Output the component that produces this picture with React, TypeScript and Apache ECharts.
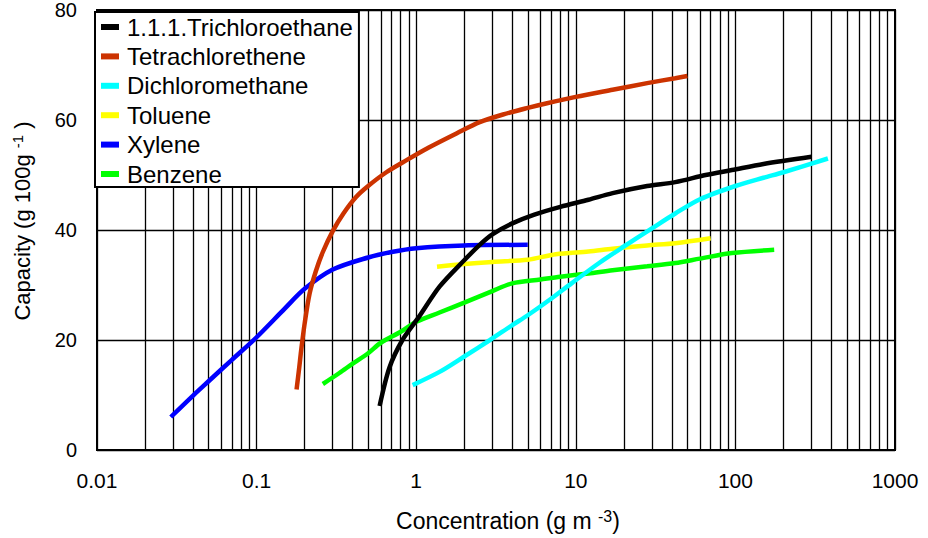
import React, { useEffect, useRef } from "react";
import * as echarts from "echarts";

const seriesNames = [
  "1.1.1.Trichloroethane",
  "Tetrachlorethene",
  "Dichloromethane",
  "Toluene",
  "Xylene",
  "Benzene",
];
const seriesColors = ["#000000", "#cc3300", "#00ffff", "#ffff00", "#0000ff", "#00ff00"];

const trichloroethane = [
  [0.59, 8], [0.68, 15], [0.82, 20], [1.04, 24.2], [1.4, 29.7], [2, 34.5], [2.5, 37.3],
  [3, 39.2], [4, 41.2], [5.5, 42.8], [8, 44.2], [12, 45.5], [17, 46.7], [28, 48],
  [42, 48.7], [65, 50], [95, 50.9], [150, 52], [300, 53.3],
];
const tetrachlorethene = [
  [0.178, 11], [0.185, 15], [0.19, 18], [0.2, 23], [0.215, 28.5], [0.235, 32.5],
  [0.26, 36], [0.3, 39.8], [0.35, 43], [0.42, 46], [0.5, 48], [0.65, 50.5],
  [0.87, 52.7], [1.2, 55], [1.8, 57.6], [2.5, 59.6], [3.5, 61], [5, 62.2],
  [6.5, 63], [10, 64.2], [17, 65.5], [28, 66.7], [42, 67.6], [50, 68],
];
const dichloromethane = [
  [0.95, 11.8], [1.4, 14.2], [2, 17], [2.9, 20], [4, 22.7], [5, 24.5], [7, 27.5],
  [9.4, 30.3], [14, 34], [20, 37], [30, 40.3], [42, 43], [60, 45.6], [100, 48],
  [150, 49.5], [200, 50.5], [380, 53],
];
const toluene = [
  [1.35, 33.3], [2, 33.8], [3, 34.2], [5, 34.6], [7.5, 35.6], [12, 36.1], [17, 36.6],
  [28, 37.2], [42, 37.6], [70, 38.5],
];
const xylene = [
  [0.029, 6], [0.04, 9.9], [0.05, 12.5], [0.07, 16.4], [0.1, 20.5], [0.15, 25.7],
  [0.2, 29.3], [0.3, 32.8], [0.5, 35], [0.7, 36], [1, 36.7], [2, 37.2], [5, 37.3],
];
const benzene = [
  [0.26, 12], [0.33, 14], [0.4, 15.7], [0.5, 17.6], [0.6, 19.5], [0.8, 21.5], [1, 23.3],
  [1.4, 25], [2, 26.8], [3, 28.9], [4, 30.3], [6, 31], [8, 31.5], [12, 32.1], [17, 32.7],
  [28, 33.4], [42, 34], [60, 34.8], [95, 35.8], [175, 36.4],
];
const seriesData = [trichloroethane, tetrachlorethene, dichloromethane, toluene, xylene, benzene];

const xMin = 0.01;
const xMax = 1000;
const xTickLabels: Record<string, string> = {
  "0.01": "0.01", "0.1": "0.1", "1": "1", "10": "10", "100": "100", "1000": "1000",
};
const yMin = 0;
const yMax = 80;
const yInterval = 20;
const decades = [0.01, 0.1, 1, 10, 100];
const minorMultipliers = [2, 3, 4, 5, 6, 7, 8, 9];

const FONT = "'Liberation Sans', Arial, sans-serif";

export default function App() {
  const ref = useRef<HTMLDivElement>(null);
  useEffect(() => {
    if (!ref.current) return;
    const chart = echarts.init(ref.current, null, { renderer: "svg" });
    const minorLines: any[] = [];
    decades.forEach((d) => minorMultipliers.forEach((m) => minorLines.push({ xAxis: +(d * m).toPrecision(6) })));

    const lineSeries = seriesNames.map((name, i) => ({
      name,
      type: "line",
      data: seriesData[i],
      showSymbol: false,
      symbol: "none",
      smooth: 0.3,
      lineStyle: { color: seriesColors[i], width: 4.5 },
      itemStyle: { color: seriesColors[i] },
      z: 10 - i,
    }));

    chart.setOption({
      animation: false,
      backgroundColor: "#ffffff",
      grid: {
        left: 97,
        right: 33,
        top: 10,
        bottom: 88,
        show: true,
        borderColor: "#000",
        borderWidth: 2,
        containLabel: false,
        outerBoundsMode: "none",
      },
      legend: {
        data: seriesNames,
        orient: "vertical",
        left: 95,
        top: 12,
        padding: [3, 6, 1, 6],
        itemWidth: 18,
        itemHeight: 6,
        itemGap: 5.4,
        icon: "rect",
        backgroundColor: "#fff",
        borderColor: "#000",
        borderWidth: 2,
        borderRadius: 0,
        textStyle: {
          fontFamily: FONT,
          fontSize: 24,
          lineHeight: 24,
          color: "#000",
          padding: [0, 0, 0, 3],
        },
        z: 20,
      },
      xAxis: {
        type: "log",
        logBase: 10,
        min: xMin,
        max: xMax,
        name: "Concentration (g m {sup|-3})",
        nameLocation: "middle",
        nameGap: 58,
        nameTextStyle: {
          fontFamily: FONT,
          fontSize: 23,
          color: "#000",
          padding: [0, 0, 0, 24],
          rich: { sup: { fontFamily: FONT, fontSize: 16, color: "#000", verticalAlign: "top", padding: [0, 0, 10, 0] } },
        },
        axisLine: { show: true, lineStyle: { color: "#000", width: 2 } },
        axisTick: { show: false },
        axisLabel: {
          fontFamily: FONT,
          fontSize: 21,
          color: "#000",
          margin: 20,
          formatter: (v: number) => xTickLabels[String(+v.toPrecision(6))] ?? String(v),
        },
        splitLine: { show: true, lineStyle: { color: "#000", width: 1.3 } },
      },
      yAxis: {
        type: "value",
        min: yMin,
        max: yMax,
        interval: yInterval,
        name: "Capacity (g 100g {sup|-1} )",
        nameLocation: "middle",
        nameRotate: 90,
        nameGap: 62,
        nameTextStyle: {
          fontFamily: FONT,
          fontSize: 22,
          color: "#000",
          padding: [0, 0, 0, 18],
          rich: { sup: { fontFamily: FONT, fontSize: 15, color: "#000", padding: [0, 0, 10, 0] } },
        },
        axisLine: { show: true, lineStyle: { color: "#000", width: 2 } },
        axisTick: { show: false },
        axisLabel: { fontFamily: FONT, fontSize: 20, color: "#000", margin: 20, padding: [12, 0, 0, 0] },
        splitLine: { show: true, lineStyle: { color: "#000", width: 1.3 } },
      },
      series: [
        {
          name: "minorGrid",
          type: "line",
          data: [],
          z: 1,
          silent: true,
          markLine: {
            silent: true,
            symbol: "none",
            label: { show: false },
            lineStyle: { color: "#000", width: 1.3, type: "solid" },
            emphasis: { disabled: true },
            data: minorLines,
          },
        },
        ...lineSeries,
      ],
    });
    return () => chart.dispose();
  }, []);
  return (
    <div
      ref={ref}
      style={{ position: "fixed", left: 0, top: 0, width: 928, height: 538 }}
    />
  );
}
